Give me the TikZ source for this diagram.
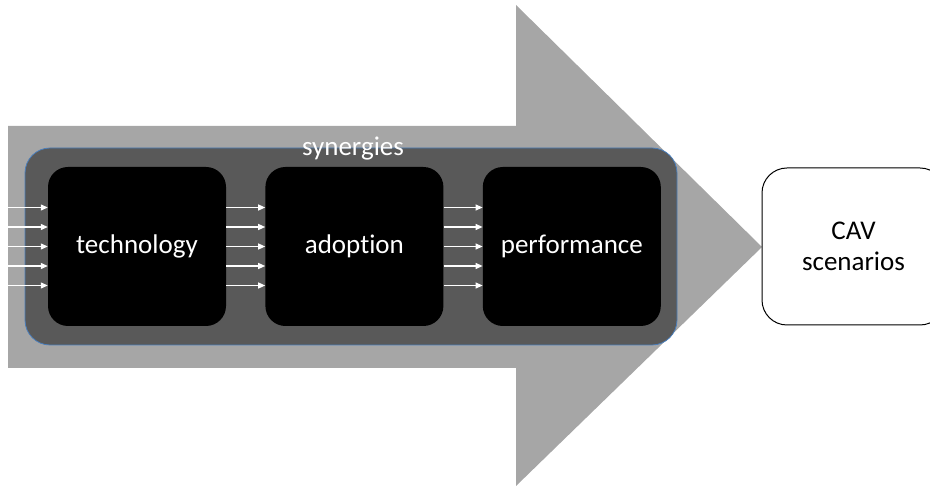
\documentclass[tikz,border=0pt]{standalone}
\usepackage{fontspec}
\setmainfont{Carlito}[Ligatures=NoCommon]
\usetikzlibrary{arrows.meta,calc,positioning}
\definecolor{arrowgray}{HTML}{A6A6A6}
\definecolor{framegray}{HTML}{595959}
\definecolor{frameblue}{HTML}{4A7EBB}
\tikzset{
  stagebox/.style={fill=black,rounded corners=20pt,minimum width=178pt,minimum height=159pt,text=white,inner sep=0pt},
  flowarrow/.style={-{Triangle[length=7pt,width=6pt]},white,line width=1.2pt},
}
\begin{document}
\begin{tikzpicture}[x=1pt,y=1pt,font=\fontsize{27pt}{31pt}\selectfont]
\useasboundingbox (0,0) rectangle (930,487);
% big grey arrow
\fill[arrowgray] (8,361)--(516,361)--(516,482)--(762,240)--(516,1)--(516,119)--(8,119)--cycle;
\node[fill=framegray,draw=frameblue,line width=0.8pt,rounded corners=25pt,minimum width=652pt,minimum height=197pt] (syn) at (351,240.5) {};
\node[anchor=base,text=white,inner sep=0pt] (synlbl) at (353,331) {synergies};
\node[stagebox] (tech) at (137,240.5) {technology};
\node[stagebox,right=39pt of tech] (adopt) {adoption};
\node[stagebox,right=39pt of adopt] (perf) {performance};
\node[draw=black,fill=white,rounded corners=25pt,minimum width=183pt,minimum height=157pt,align=center,line width=1pt] (cav) at (853.5,240.5) {CAV\\scenarios};
\coordinate (src) at (0,240.5);
\foreach \dy in {-39,-19.5,0,19.5,39}{
  \draw[flowarrow] ($(src)+(0,\dy)$) -- ($(tech.west)+(0,\dy)$);
  \draw[flowarrow] ($(tech.east)+(0,\dy)$) -- ($(adopt.west)+(0,\dy)$);
  \draw[flowarrow] ($(adopt.east)+(0,\dy)$) -- ($(perf.west)+(0,\dy)$);
}
\end{tikzpicture}
\end{document}
